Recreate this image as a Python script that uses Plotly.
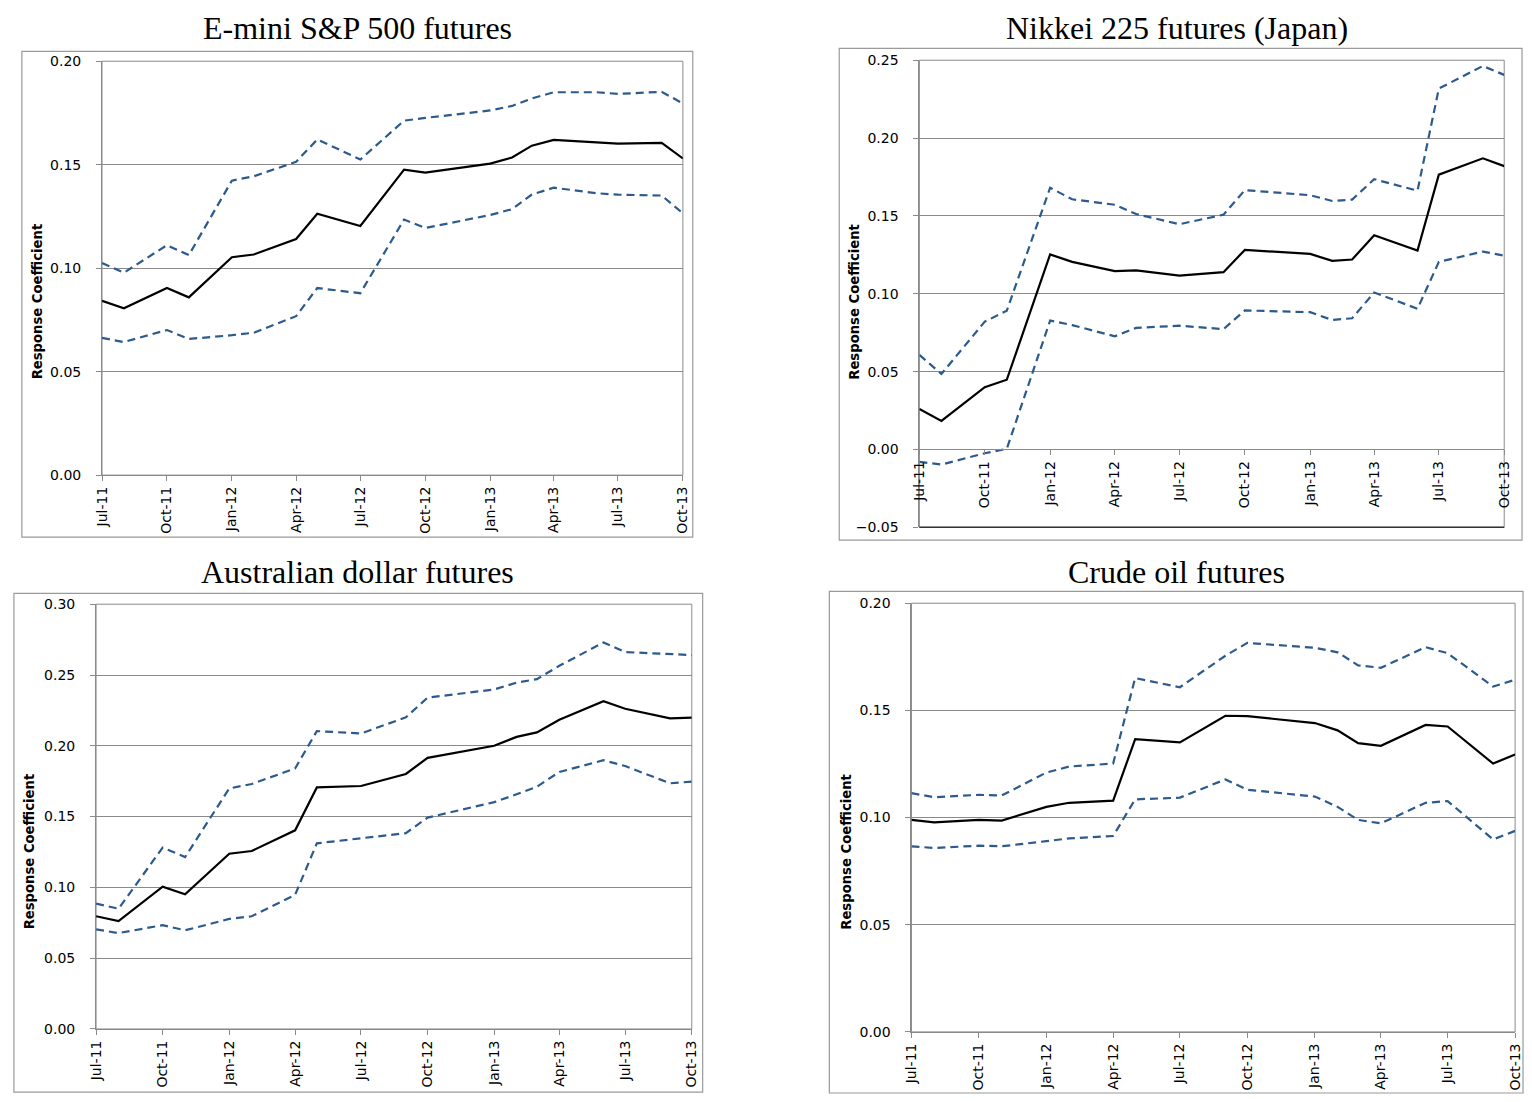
import plotly.graph_objects as go

# months where the rolling estimates are plotted
meses = ["2011-07-01", "2011-08-01", "2011-10-01", "2011-11-01", "2012-01-01", "2012-02-01",
         "2012-04-01", "2012-05-01", "2012-07-01", "2012-09-01", "2012-10-01", "2013-01-01",
         "2013-02-01", "2013-03-01", "2013-04-01", "2013-06-01", "2013-07-01", "2013-09-01",
         "2013-10-01"]

titulos = ["E-mini S&P 500 futures", "Nikkei 225 futures (Japan)",
           "Australian dollar futures", "Crude oil futures"]

sp_coef = [0.0842, 0.0806, 0.0904, 0.0859, 0.1053, 0.1066, 0.1141, 0.1263, 0.1204, 0.1476,
           0.1462, 0.1505, 0.1535, 0.1592, 0.1620, 0.1608, 0.1602, 0.1605, 0.1530]
sp_sup = [0.1025, 0.0978, 0.1111, 0.1063, 0.1423, 0.1444, 0.1514, 0.1622, 0.1525, 0.1713,
          0.1726, 0.1762, 0.1784, 0.1820, 0.1850, 0.1850, 0.1842, 0.1852, 0.1796]
sp_inf = [0.0663, 0.0643, 0.0701, 0.0658, 0.0676, 0.0688, 0.0768, 0.0904, 0.0879, 0.1235,
          0.1194, 0.1257, 0.1285, 0.1356, 0.1389, 0.1362, 0.1355, 0.1351, 0.1265]

nk_coef = [0.0261, 0.0184, 0.0400, 0.0448, 0.1253, 0.1205, 0.1146, 0.1150, 0.1117, 0.1139,
           0.1282, 0.1256, 0.1212, 0.1220, 0.1376, 0.1278, 0.1765, 0.1870, 0.1820]
nk_sup = [0.0608, 0.0485, 0.0821, 0.0891, 0.1681, 0.1607, 0.1572, 0.1512, 0.1447, 0.1508,
          0.1666, 0.1633, 0.1596, 0.1605, 0.1736, 0.1662, 0.2318, 0.2463, 0.2406]
nk_inf = [-0.0079, -0.0097, -0.0024, 0.0004, 0.0828, 0.0799, 0.0727, 0.0781, 0.0795, 0.0773,
          0.0893, 0.0882, 0.0832, 0.0843, 0.1008, 0.0904, 0.1205, 0.1271, 0.1245]

ad_coef = [0.0796, 0.0762, 0.1005, 0.0951, 0.1238, 0.1257, 0.1403, 0.1706, 0.1716, 0.1801,
           0.1915, 0.2000, 0.2063, 0.2095, 0.2184, 0.2315, 0.2262, 0.2194, 0.2199]
ad_sup = [0.0886, 0.0849, 0.1281, 0.1214, 0.1699, 0.1730, 0.1840, 0.2104, 0.2087, 0.2201,
          0.2340, 0.2398, 0.2446, 0.2471, 0.2565, 0.2730, 0.2662, 0.2650, 0.2641]
ad_inf = [0.0704, 0.0677, 0.0733, 0.0697, 0.0777, 0.0796, 0.0947, 0.1311, 0.1347, 0.1383,
          0.1493, 0.1602, 0.1658, 0.1711, 0.1815, 0.1898, 0.1857, 0.1735, 0.1747]

co_coef = [0.0989, 0.0978, 0.0989, 0.0986, 0.1050, 0.1069, 0.1079, 0.1366, 0.1351, 0.1475,
           0.1473, 0.1441, 0.1407, 0.1347, 0.1335, 0.1432, 0.1425, 0.1252, 0.1294]
co_sup = [0.1114, 0.1095, 0.1106, 0.1103, 0.1210, 0.1238, 0.1252, 0.1651, 0.1608, 0.1755,
          0.1815, 0.1792, 0.1771, 0.1710, 0.1699, 0.1795, 0.1767, 0.1611, 0.1643]
co_inf = [0.0866, 0.0858, 0.0869, 0.0866, 0.0890, 0.0903, 0.0914, 0.1085, 0.1093, 0.1178,
          0.1130, 0.1098, 0.1050, 0.0989, 0.0973, 0.1069, 0.1077, 0.0898, 0.0938]

y_ranges = [[0, 0.20], [-0.05, 0.25], [0, 0.30], [0, 0.20]]

W, H = 1532, 1102

# pixel boxes: plot area (l, r, top, bottom) and chart border (l, r, top, bottom)
plot_px = [(95, 682, 54, 474), (921, 1512, 53, 527), (89, 691, 605, 1036), (913, 1523, 604, 1039)]
box_px = [(14, 692, 44, 537), (840, 1530, 41, 540), (6, 702, 594, 1100), (830, 1531, 592, 1101)]
title_px = [(353, 20), (1181, 20), (353, 572), (1181, 572)]
ytitle_px = [(30, 298), (856, 298), (22, 856), (847, 856)]

series = [(sp_coef, sp_sup, sp_inf), (nk_coef, nk_sup, nk_inf),
          (ad_coef, ad_sup, ad_inf), (co_coef, co_sup, co_inf)]

AZUL = "#2C5A8C"
CINZA = "#8A8A8A"
fonte = dict(family="DejaVu Sans", size=14, color="black")

fig = go.Figure()
layout = {}
shapes = []
annotations = []

for i in range(4):
    n = "" if i == 0 else str(i + 1)
    xa, ya = "x" + n, "y" + n
    coef, sup, inf = series[i]
    for vals, cor, dash in [(sup, AZUL, "8px,5px"), (inf, AZUL, "8px,5px"), (coef, "black", "solid")]:
        fig.add_trace(go.Scatter(x=meses, y=vals, mode="lines", xaxis=xa, yaxis=ya,
                                 line=dict(color=cor, width=2.2, dash=dash), showlegend=False))

    l, r, t, b = plot_px[i]
    xdom = [l / W, r / W]
    ydom = [1 - b / H, 1 - t / H]
    yr = y_ranges[i]

    xaxis = dict(domain=xdom, anchor=ya, type="date", range=["2011-07-01", "2013-10-01"],
                 tick0="2011-07-01", dtick="M3", tickformat="%b-%y", tickangle=-90,
                 ticks="outside", ticklen=5, tickcolor=CINZA, showgrid=False,
                 showline=True, linecolor=CINZA, linewidth=1, tickfont=fonte, zeroline=False)
    if yr[0] < 0:
        # axis crosses at zero, like Excel
        pos = ydom[0] + (0 - yr[0]) / (yr[1] - yr[0]) * (ydom[1] - ydom[0])
        xaxis.update(anchor="free", position=pos)
    layout["xaxis" + n] = xaxis
    layout["yaxis" + n] = dict(domain=ydom, anchor=xa, range=yr, dtick=0.05, tickformat=".2f",
                               ticks="outside", ticklen=5, tickcolor=CINZA, showgrid=True,
                               gridcolor=CINZA, gridwidth=1, showline=True, linecolor=CINZA,
                               zeroline=False, tickfont=fonte, ticklabelstandoff=12)

    # plot area border
    shapes.append(dict(type="rect", xref=xa + " domain", yref=ya + " domain", x0=0, x1=1, y0=0, y1=1,
                       line=dict(color=CINZA, width=1), layer="below"))
    if yr[0] < 0:
        shapes.append(dict(type="line", xref=xa + " domain", yref=ya + " domain", x0=0, x1=1, y0=0, y1=0,
                           line=dict(color="#333333", width=1.5)))
    # chart border
    bl, br, bt, bb = box_px[i]
    shapes.append(dict(type="rect", xref="paper", yref="paper", x0=bl / W, x1=br / W,
                       y0=1 - bb / H, y1=1 - bt / H, line=dict(color="#9A9A9A", width=1.2)))

    tx, ty = title_px[i]
    annotations.append(dict(text=titulos[i], xref="paper", yref="paper", x=tx / W, y=1 - ty / H,
                            xanchor="center", yanchor="middle", showarrow=False,
                            font=dict(family="Liberation Serif", size=32, color="black")))
    qx, qy = ytitle_px[i]
    annotations.append(dict(text="Response Coefficient", xref="paper", yref="paper", x=qx / W, y=1 - qy / H,
                            xanchor="center", yanchor="middle", showarrow=False, textangle=-90,
                            font=dict(family="DejaVu Sans", size=13.2, color="black", weight="bold")))

fig.update_layout(**layout)
fig.update_layout(
    width=W,
    height=H,
    margin=dict(l=0, r=0, t=0, b=0),
    paper_bgcolor="white",
    plot_bgcolor="white",
    shapes=shapes,
    annotations=annotations,
)

fig.write_html("out.html", config={"displayModeBar": False},
               post_script="document.body.style.margin='0px';")
